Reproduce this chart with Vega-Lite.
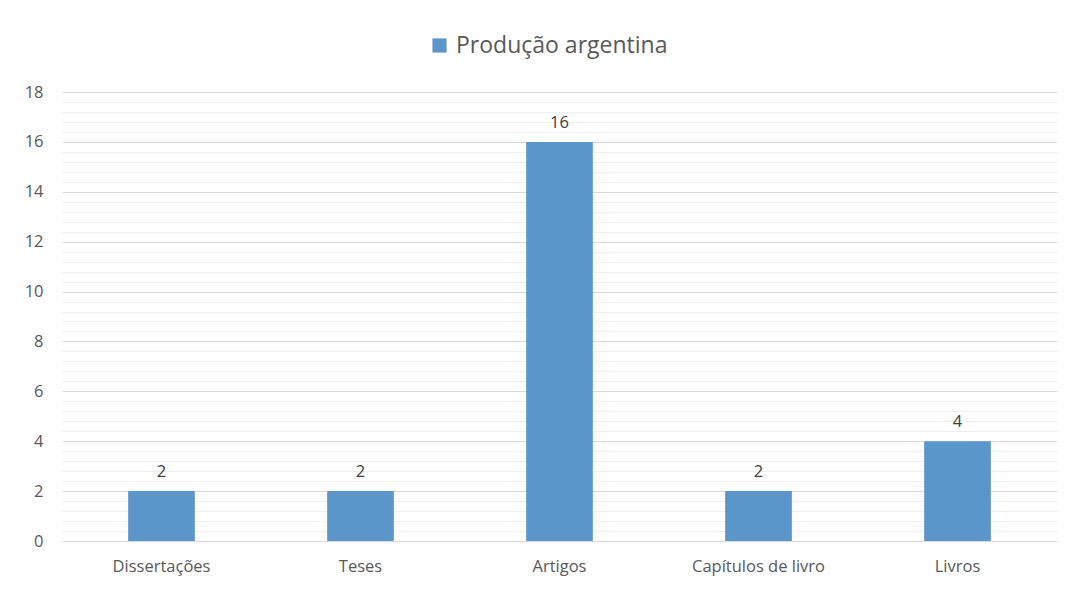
{
  "$schema": "https://vega.github.io/schema/vega-lite/v6.json",
  "width": 995,
  "height": 449,
  "autosize": {"type": "none"},
  "padding": {"left": 62, "top": 92, "right": 17, "bottom": 48},
  "background": "#ffffff",
  "config": {
    "view": {"stroke": null},
    "font": "Open Sans",
    "axis": {"labelFont": "Open Sans", "labelColor": "#595959", "labelFontSize": 16.5}
  },
  "data": {
    "values": [
      {"categoria": "Dissertações", "valor": 2, "serie": "Produção argentina"},
      {"categoria": "Teses", "valor": 2, "serie": "Produção argentina"},
      {"categoria": "Artigos", "valor": 16, "serie": "Produção argentina"},
      {"categoria": "Capítulos de livro", "valor": 2, "serie": "Produção argentina"},
      {"categoria": "Livros", "valor": 4, "serie": "Produção argentina"}
    ]
  },
  "encoding": {
    "x": {
      "field": "categoria",
      "type": "nominal",
      "sort": null,
      "scale": {"paddingInner": 0.665, "paddingOuter": 0.3325},
      "axis": {
        "title": null,
        "labelAngle": 0,
        "ticks": false,
        "domainColor": "#d9d9d9",
        "domainWidth": 1,
        "labelPadding": 17,
        "grid": false
      }
    },
    "y": {
      "field": "valor",
      "type": "quantitative",
      "scale": {"domain": [0, 18], "nice": false},
      "axis": {
        "title": null,
        "values": [0, 0.4, 0.8, 1.2, 1.6, 2, 2.4, 2.8, 3.2, 3.6, 4, 4.4, 4.8, 5.2, 5.6, 6, 6.4, 6.8, 7.2, 7.6, 8, 8.4, 8.8, 9.2, 9.6, 10, 10.4, 10.8, 11.2, 11.6, 12, 12.4, 12.8, 13.2, 13.6, 14, 14.4, 14.8, 15.2, 15.6, 16, 16.4, 16.8, 17.2, 17.6, 18],
        "labelExpr": "abs(datum.value % 2) < 0.001 ? format(datum.value, 'd') : ''",
        "grid": true,
        "gridColor": {"condition": {"test": "abs(datum.value % 2) < 0.001", "value": "#d9d9d9"}, "value": "#eeeeee"},
        "gridWidth": 1,
        "ticks": false,
        "domain": false,
        "labelPadding": 19
      }
    }
  },
  "layer": [
    {
      "mark": {"type": "bar", "color": "#5b96cb"},
      "encoding": {
        "color": {
          "field": "serie",
          "type": "nominal",
          "scale": {"range": ["#5b96cb"]},
          "legend": {
            "title": null,
            "orient": "none",
            "legendX": 366,
            "legendY": -58,
            "symbolType": "square",
            "symbolSize": 200,
            "symbolStrokeWidth": 0,
            "labelFontSize": 23,
            "labelColor": "#595959",
            "labelFont": "Open Sans",
            "labelLimit": 500,
            "labelOffset": 5
          }
        }
      }
    },
    {
      "mark": {"type": "text", "baseline": "bottom", "dy": -11, "fontSize": 16.5, "color": "#404040", "font": "Open Sans"},
      "encoding": {"text": {"field": "valor", "type": "quantitative"}}
    }
  ]
}
